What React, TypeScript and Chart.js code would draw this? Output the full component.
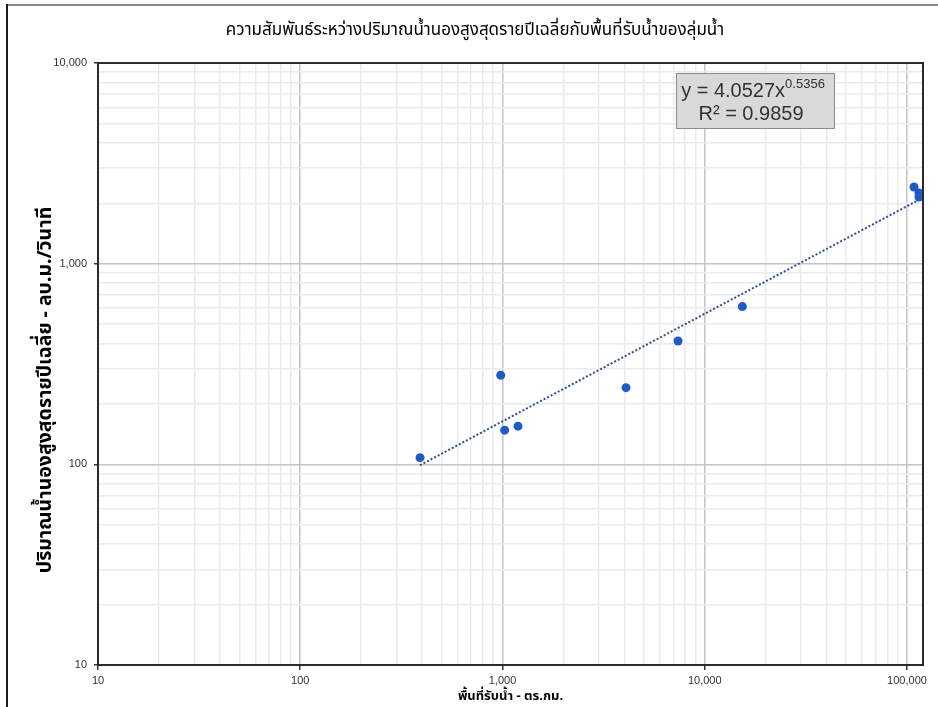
import React, { useEffect, useRef } from 'react';
import { Chart, registerables } from 'chart.js';

Chart.register(...registerables);

// ---- text ----
const CHART_TITLE = 'ความสัมพันธ์ระหว่างปริมาณน้ำนองสูงสุดรายปีเฉลี่ยกับพื้นที่รับน้ำของลุ่มน้ำ';
const Y_TITLE = 'ปริมาณน้ำนองสูงสุดรายปีเฉลี่ย - ลบ.ม./วินาที';
const X_TITLE = 'พื้นที่รับน้ำ - ตร.กม.';
const EQ_COEF = '4.0527';
const EQ_EXP = '0.5356';
const EQ_R2 = '0.9859';

// ---- data ----
const areaKm2 = [391, 980, 1025, 1193, 4080, 7380, 15340, 108300, 114600, 114600];
const peakFlow = [108, 278, 148, 155, 241, 412, 611, 2410, 2250, 2150];
const trendArea = [391, 114600];
const trendFlow = [99, 2080];

// ---- axes ----
const xMajorTicks = [10, 100, 1000, 10000, 100000];
const yMajorTicks = [10, 100, 1000, 10000];
const X_MIN = 10;
const X_MAX = 120000;
const Y_MIN = 10;
const Y_MAX = 10000;

const FONT = "'Noto Sans', 'Noto Sans Thai', Tahoma, 'DejaVu Sans', sans-serif";
const TICK_FONT = "'Liberation Sans', Arial, sans-serif";

function logTicks(majors: number[], min: number, max: number) {
  const out: { value: number; major: boolean }[] = [];
  majors.forEach((m) => {
    for (let k = 1; k <= 9; k++) {
      const v = m * k;
      if (v >= min && v <= max) out.push({ value: v, major: k === 1 });
    }
  });
  return out;
}

const fmt = (v: number) => v.toLocaleString('en-US');

const overlayPlugin = {
  id: 'overlay',
  beforeDraw(chart: any) {
    const { ctx, width, height } = chart;
    ctx.save();
    ctx.fillStyle = '#ffffff';
    ctx.fillRect(0, 0, width, height);
    // outer frame
    ctx.strokeStyle = '#8a8a8a';
    ctx.lineWidth = 2;
    ctx.beginPath();
    ctx.moveTo(7, 5);
    ctx.lineTo(width, 5);
    ctx.stroke();
    ctx.strokeStyle = '#1a1a1a';
    ctx.beginPath();
    ctx.moveTo(7, 4);
    ctx.lineTo(7, height);
    ctx.stroke();
    // chart title
    ctx.fillStyle = '#000000';
    ctx.font = `17px ${FONT}`;
    ctx.textAlign = 'center';
    ctx.textBaseline = 'middle';
    ctx.fillText(CHART_TITLE, 475, 30);
    ctx.restore();
  },
  afterDraw(chart: any) {
    const { ctx, chartArea: ca } = chart;
    ctx.save();
    // plot border
    ctx.strokeStyle = '#2b2b2b';
    ctx.lineWidth = 2;
    ctx.strokeRect(ca.left, ca.top, ca.right - ca.left, ca.bottom - ca.top);

    // equation box
    const bx = ca.left + 578;
    const by = ca.top + 10;
    const bw = 158;
    const bh = 55;
    ctx.fillStyle = '#d9d9d9';
    ctx.fillRect(bx, by, bw, bh);
    ctx.strokeStyle = '#8c8c8c';
    ctx.lineWidth = 1;
    ctx.strokeRect(bx + 0.5, by + 0.5, bw, bh);

    ctx.fillStyle = '#333333';
    ctx.textBaseline = 'alphabetic';
    const mainFont = `20px ${TICK_FONT}`;
    const supFont = `13px ${TICK_FONT}`;
    const part1 = `y = ${EQ_COEF}x`;
    ctx.font = mainFont;
    const w1 = ctx.measureText(part1).width;
    ctx.font = supFont;
    const w2 = ctx.measureText(EQ_EXP).width;
    const cx = bx + bw / 2;
    const x0 = cx - (w1 + w2) / 2 - 2;
    ctx.textAlign = 'left';
    ctx.font = mainFont;
    ctx.fillText(part1, x0, by + 24);
    ctx.font = supFont;
    ctx.fillText(EQ_EXP, x0 + w1, by + 15);
    ctx.font = mainFont;
    ctx.textAlign = 'center';
    ctx.fillText(`R² = ${EQ_R2}`, cx - 4, by + 47);

    // y axis title
    ctx.translate(45, 390);
    ctx.rotate(-Math.PI / 2);
    ctx.textAlign = 'center';
    ctx.textBaseline = 'middle';
    ctx.fillStyle = '#000000';
    ctx.font = `bold 19.5px ${FONT}`;
    ctx.fillText(Y_TITLE, 0, 0);
    ctx.restore();
  },
};

export default function App() {
  const ref = useRef<HTMLCanvasElement | null>(null);

  useEffect(() => {
    if (!ref.current) return;
    const xMajSet = new Set(xMajorTicks);
    const yMajSet = new Set(yMajorTicks);
    const chart = new Chart(ref.current, {
      type: 'scatter',
      data: {
        datasets: [
          {
            label: 'data',
            data: areaKm2.map((x, i) => ({ x, y: peakFlow[i] })),
            pointRadius: 4.5,
            pointHoverRadius: 4.5,
            backgroundColor: '#1f5bc6',
            borderColor: '#1f5bc6',
            borderWidth: 0,
            showLine: false,
          },
          {
            label: 'trend',
            data: trendArea.map((x, i) => ({ x, y: trendFlow[i] })),
            showLine: true,
            pointRadius: 0,
            borderColor: '#2e4e8f',
            borderWidth: 2,
            borderDash: [2, 2],
            fill: false,
          },
        ],
      },
      options: {
        animation: false,
        responsive: false,
        events: [],
        layout: { padding: { left: 0, right: 15, top: 63, bottom: 0 } },
        plugins: {
          legend: { display: false },
          tooltip: { enabled: false },
          title: { display: false },
        },
        scales: {
          x: {
            type: 'logarithmic',
            min: X_MIN,
            max: X_MAX,
            afterBuildTicks: (s: any) => {
              s.ticks = logTicks(xMajorTicks, X_MIN, X_MAX);
            },
            afterFit: (s: any) => {
              s.height = 42;
            },
            ticks: {
              autoSkip: false,
              maxRotation: 0,
              padding: 4,
              color: '#333333',
              font: { size: 11, family: TICK_FONT },
              callback: (v: any) => (xMajSet.has(Number(v)) ? fmt(Number(v)) : ''),
            },
            grid: {
              color: (c: any) => (c.tick && xMajSet.has(c.tick.value) ? '#c4c4c4' : '#ebebeb'),
              lineWidth: 1.5,
              tickLength: 5,
              tickColor: (c: any) => (c.tick && xMajSet.has(c.tick.value) ? '#333333' : 'rgba(0,0,0,0)'),
            },
            border: { display: true, color: '#2b2b2b', width: 2 },
            title: {
              display: true,
              text: X_TITLE,
              color: '#000000',
              font: { size: 13, weight: 'bold', family: FONT },
              padding: { top: 0, bottom: 3 },
            },
          },
          y: {
            type: 'logarithmic',
            min: Y_MIN,
            max: Y_MAX,
            afterBuildTicks: (s: any) => {
              s.ticks = logTicks(yMajorTicks, Y_MIN, Y_MAX);
            },
            afterFit: (s: any) => {
              s.width = 98;
            },
            ticks: {
              autoSkip: false,
              padding: 7,
              color: '#333333',
              font: { size: 11, family: TICK_FONT },
              callback: (v: any) => (yMajSet.has(Number(v)) ? fmt(Number(v)) : ''),
            },
            grid: {
              color: (c: any) => (c.tick && yMajSet.has(c.tick.value) ? '#c4c4c4' : '#ebebeb'),
              lineWidth: 1.5,
              tickLength: 4,
              tickColor: (c: any) => (c.tick && yMajSet.has(c.tick.value) ? '#333333' : 'rgba(0,0,0,0)'),
            },
            border: { display: true, color: '#2b2b2b', width: 2 },
          },
        },
      } as any,
      plugins: [overlayPlugin],
    });
    return () => chart.destroy();
  }, []);

  return (
    <div style={{ position: 'absolute', left: 0, top: 0, width: 938, height: 707 }}>
      <canvas ref={ref} width={938} height={707} style={{ display: 'block' }} />
    </div>
  );
}
